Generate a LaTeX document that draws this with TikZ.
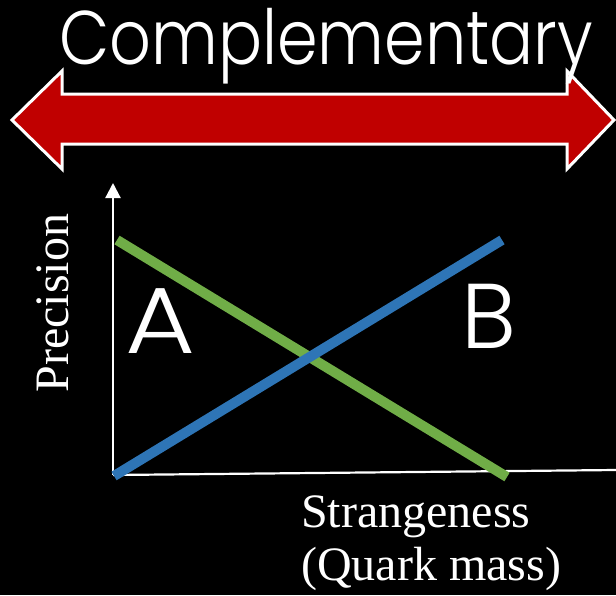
\documentclass[tikz,border=0pt]{standalone}
\usepackage{graphicx}
\usepackage{fontspec}
\setmainfont{Liberation Serif}
\newfontfamily\gothic{Poppins Light}
\usetikzlibrary{arrows.meta}
\definecolor{bigred}{RGB}{192,0,0}
\definecolor{lgreen}{RGB}{112,173,71}
\definecolor{lblue}{RGB}{46,117,182}
\tikzset{
  axisline/.style={draw=white, line width=2.2pt},
  curveline/.style={line width=10pt, line cap=butt},
  serlabel/.style={text=white, font=\fontsize{48}{53}\selectfont, inner sep=0pt},
  sanslabel/.style={text=white, inner sep=0pt}
}
\begin{document}
\begin{tikzpicture}[x=1pt,y=-1pt]
\fill[black] (0,0) rectangle (616,595);
\useasboundingbox (0,0) rectangle (616,595);
% big double arrow
\draw[white, line width=3pt, fill=bigred, line join=miter]
  (12,120) -- (62,71) -- (62,94) -- (567,94) -- (567,71) -- (614,120)
  -- (567,169) -- (567,144) -- (62,144) -- (62,169) -- cycle;
\node[sanslabel, anchor=base west, font=\gothic\fontsize{76}{80}\selectfont] (title) at (59,64) {\resizebox{534pt}{\height}{Complementary}};
% axes
\coordinate (origin) at (113,475);
\coordinate (ytop) at (113,183);
\coordinate (xend) at (616,470);
\draw[axisline, -{Triangle[width=15pt,length=15pt]}] (origin) -- (ytop);
\draw[axisline] (origin) -- (xend);
% lines
\coordinate (g1) at (117,240);
\coordinate (g2) at (507,477);
\coordinate (b1) at (114,476);
\coordinate (b2) at (502,240);
\draw[curveline, lgreen] (g1) -- (g2);
\draw[curveline, lblue] (b1) -- (b2);
% labels
\node[sanslabel, anchor=base west, font=\gothic\fontsize{94}{98}\selectfont] (A) at (125,353) {\resizebox{70pt}{\height}{A}};
\node[sanslabel, anchor=base west, font=\gothic\fontsize{92}{96}\selectfont] (B) at (461,348) {B};
\node[serlabel, rotate=90, anchor=base] (prec) at (68,303) {Precision};
\node[serlabel, anchor=base west] (str) at (301,527) {Strangeness};
\node[serlabel, anchor=base west] (qm) at (301,580) {(Quark mass)};
\end{tikzpicture}
\end{document}
